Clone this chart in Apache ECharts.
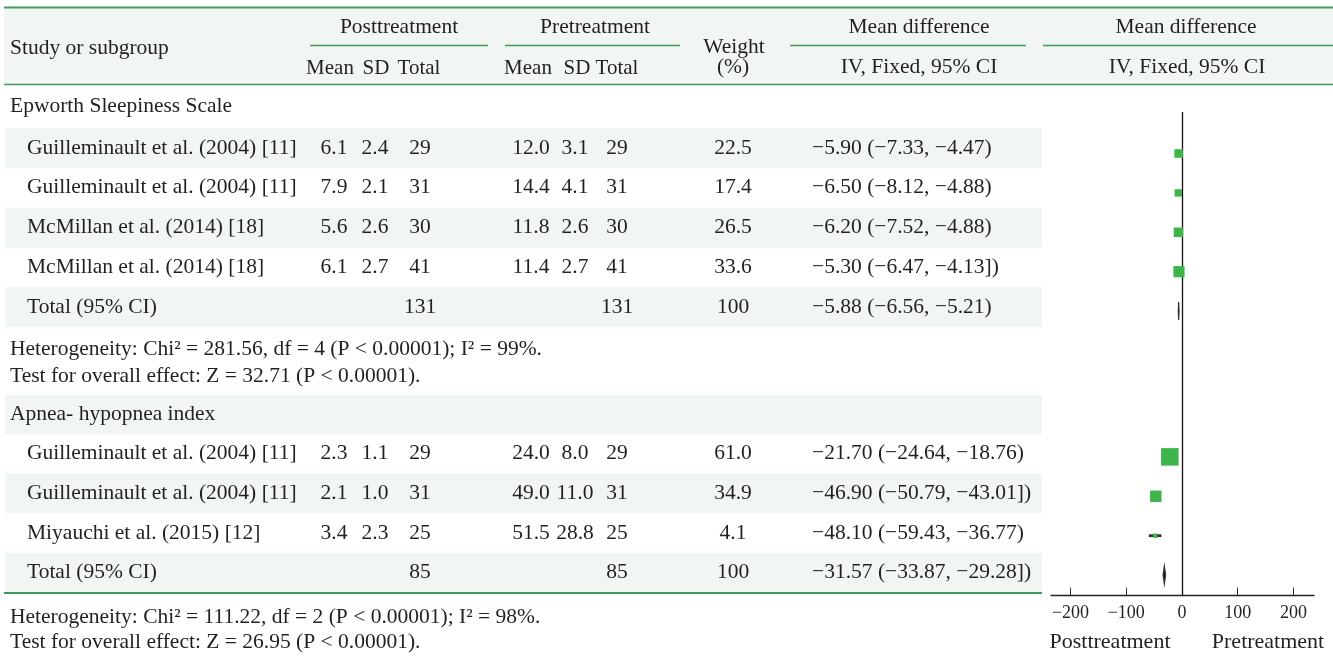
<!DOCTYPE html>
<html><head><meta charset="utf-8">
<script src="https://cdn.jsdelivr.net/npm/echarts@6/dist/echarts.min.js"></script>
<style>html,body{margin:0;padding:0;background:#fff}#c{width:1333px;height:657px}</style>
</head><body><div id="c"></div>
<script>
// ---------------- DATA ----------------
const groupNames = ["Epworth Sleepiness Scale", "Apnea- hypopnea index"];
const studies = ["Guilleminault et al. (2004) [11]", "Guilleminault et al. (2004) [11]", "McMillan et al. (2014) [18]", "McMillan et al. (2014) [18]",
                 "Guilleminault et al. (2004) [11]", "Guilleminault et al. (2004) [11]", "Miyauchi et al. (2015) [12]"];
const studyGroup = [0, 0, 0, 0, 1, 1, 1];
const postMean  = [6.1, 7.9, 5.6, 6.1, 2.3, 2.1, 3.4];
const postSD    = [2.4, 2.1, 2.6, 2.7, 1.1, 1.0, 2.3];
const postTotal = [29, 31, 30, 41, 29, 31, 25];
const preMean   = [12.0, 14.4, 11.8, 11.4, 24.0, 49.0, 51.5];
const preSD     = [3.1, 4.1, 2.6, 2.7, 8.0, 11.0, 28.8];
const preTotal  = [29, 31, 30, 41, 29, 31, 25];
const weights   = [22.5, 17.4, 26.5, 33.6, 61.0, 34.9, 4.1];
const meanDiff  = [-5.90, -6.50, -6.20, -5.30, -21.70, -46.90, -48.10];
const ciLow     = [-7.33, -8.12, -7.52, -6.47, -24.64, -50.79, -59.43];
const ciHigh    = [-4.47, -4.88, -4.88, -4.13, -18.76, -43.01, -36.77];
const ciClose   = [")", ")", ")", "])", ")", "])", ")"];
const totalLabel = "Total (95% CI)";
const totalPost  = [131, 85];
const totalPre   = [131, 85];
const totalWeight = [100, 100];
const totalMd    = [-5.88, -31.57];
const totalLow   = [-6.56, -33.87];
const totalHigh  = [-5.21, -29.28];
const totalClose = [")", "])"];
const hetChi = ["281.56", "111.22"];
const hetDf  = [4, 2];
const hetI2  = [99, 98];
const overallZ = ["32.71", "26.95"];
const pText = "P < 0.00001";
const xTicks = [-200, -100, 0, 100, 200];
const sideLabels = ["Posttreatment", "Pretreatment"];
const headGroups = ["Posttreatment", "Pretreatment"];
const subHeads = ["Mean", "SD", "Total"];
const headStudy = "Study or subgroup";
const headWeight = ["Weight", "(%)"];
const headMd = ["Mean difference", "IV, Fixed, 95% CI"];

// ---------------- LAYOUT ----------------
const FONT = '"Liberation Serif", "Times New Roman", serif';
const FS = 21.5;
const TXT = '#231f20';
const GREEN_LINE = '#3f9a5e';
const SHADE = '#f1f6f2';
const MARK = '#3db54a';
const colX = {pm: 334, psd: 375, pt: 420, qm: 531, qsd: 575, qt: 617, w: 733, md: 812};
const subHeadX = [[330, 376, 419], [528, 577, 617]];
const nameX = 27, groupX = 10;
const grp = [
  {headTop: 84, headH: 44, rowTop: 128, rowH: 39.8, het: 349, test: 376, offsetU: 0},
  {headTop: 395, headH: 39, rowTop: 434, rowH: 39.6, het: 617, test: 642, offsetU: 7.7}
];
const forestTop = 112, axisY = 595.5, uPix0 = 153.5, uStep = 39.4;

const minus = s => String(s).replace(/-/g, '\u2212');
const fmtCI = (m, lo, hi, close) => minus(m.toFixed(2)) + ' (' + minus(lo.toFixed(2)) + ', ' + minus(hi.toFixed(2)) + close;

const G = [];
function txt(x, y, s, align, size) {
  G.push({type: 'text', x: x, y: y, z: 10, silent: true,
    style: {text: s, fill: TXT, font: (size || FS) + 'px ' + FONT, fontSize: size || FS, fontFamily: FONT,
      align: align || 'center', textAlign: align || 'center', verticalAlign: 'middle', textVerticalAlign: 'middle'}});
}
function rect(x, y, w, h, fill) {
  G.push({type: 'rect', z: 1, silent: true, shape: {x: x, y: y, width: w, height: h}, style: {fill: fill}});
}
function hline(x1, x2, y, w) {
  G.push({type: 'line', z: 5, silent: true, shape: {x1: x1, y1: y, x2: x2, y2: y}, style: {stroke: GREEN_LINE, lineWidth: w}});
}

// header
rect(4, 8, 1329, 76, SHADE);
hline(4, 1333, 7.5, 2);
hline(4, 1333, 84.5, 1.6);
hline(310, 488, 45.5, 1.4);
hline(505, 680, 45.5, 1.4);
hline(790, 1026, 45.5, 1.4);
hline(1043, 1333, 45.5, 1.4);
txt(groupX, 48, headStudy, 'left');
txt(399, 27, headGroups[0]);
txt(595, 27, headGroups[1]);
subHeadX.forEach(xs => xs.forEach((x, i) => txt(x, 68, subHeads[i], 'center', 21)));
txt(734, 47, headWeight[0]);
txt(733, 67, headWeight[1]);
txt(919, 27, headMd[0]);
txt(919, 67, headMd[1]);
txt(1186, 27, headMd[0]);
txt(1187, 67, headMd[1]);

const studyPts = [], totalPts = [];
groupNames.forEach((gname, g) => {
  const L = grp[g];
  const idx = studyGroup.map((v, i) => v === g ? i : -1).filter(i => i >= 0);
  const n = idx.length + 1;
  if (n % 2 === 0) rect(5, L.headTop, 1037, L.headH, SHADE);
  txt(groupX, L.headTop + L.headH / 2, gname, 'left');
  idx.forEach((si, k) => {
    const top = L.rowTop + k * L.rowH, cy = top + L.rowH / 2;
    if ((n - 1 - k) % 2 === 0) rect(5, top, 1037, L.rowH, SHADE);
    txt(nameX, cy, studies[si], 'left');
    txt(colX.pm, cy, postMean[si].toFixed(1));
    txt(colX.psd, cy, postSD[si].toFixed(1));
    txt(colX.pt, cy, String(postTotal[si]));
    txt(colX.qm, cy, preMean[si].toFixed(1));
    txt(colX.qsd, cy, preSD[si].toFixed(1));
    txt(colX.qt, cy, String(preTotal[si]));
    txt(colX.w, cy, weights[si].toFixed(1));
    txt(colX.md, cy, fmtCI(meanDiff[si], ciLow[si], ciHigh[si], ciClose[si]), 'left');
    studyPts.push([meanDiff[si], L.offsetU + k, ciLow[si], ciHigh[si], weights[si]]);
  });
  const k = idx.length, top = L.rowTop + k * L.rowH, cy = top + L.rowH / 2;
  rect(5, top, 1037, L.rowH, SHADE);
  txt(nameX, cy, totalLabel, 'left');
  txt(colX.pt, cy, String(totalPost[g]));
  txt(colX.qt, cy, String(totalPre[g]));
  txt(colX.w, cy, String(totalWeight[g]));
  txt(colX.md, cy, fmtCI(totalMd[g], totalLow[g], totalHigh[g], totalClose[g]), 'left');
  totalPts.push([totalMd[g], L.offsetU + k, totalLow[g], totalHigh[g]]);
  txt(groupX, L.het, 'Heterogeneity: Chi\u00b2 = ' + hetChi[g] + ', df = ' + hetDf[g] + ' (' + pText + '); I\u00b2 = ' + hetI2[g] + '%.', 'left');
  txt(groupX, L.test, 'Test for overall effect: Z = ' + overallZ[g] + ' (' + pText + ').', 'left');
});
hline(4, 1042, 593, 2);
txt(1110, 642, sideLabels[0], 'center', 22);
txt(1268, 642, sideLabels[1], 'center', 22);

// ---------------- CHART ----------------
const chart = echarts.init(document.getElementById('c'), null, {renderer: 'canvas'});
const gl = 1051, gr = 1314;
chart.setOption({
  animation: false,
  backgroundColor: '#ffffff',
  graphic: {elements: G},
  grid: {left: gl, right: 1333 - gr, top: forestTop, bottom: 657 - axisY, containLabel: false},
  xAxis: {type: 'value', min: -235, max: 237,
    axisLine: {show: true, onZero: false, lineStyle: {color: '#222', width: 1.3}},
    axisTick: {show: true, inside: true, length: 8, customValues: xTicks, lineStyle: {color: '#333', width: 1}},
    axisLabel: {customValues: xTicks, formatter: v => minus(v), fontFamily: FONT, fontSize: 18, color: TXT, margin: 9},
    splitLine: {show: false}},
  yAxis: {type: 'value', inverse: true, show: false,
    min: (forestTop - uPix0) / uStep, max: (axisY - uPix0) / uStep, splitLine: {show: false}},
  series: [
    {type: 'custom', name: 'studies', data: studyPts, z: 5, silent: true,
      renderItem: function (params, api) {
        const y = api.value(1);
        const lo = api.coord([api.value(2), y]), hi = api.coord([api.value(3), y]);
        const c = api.coord([api.value(0), y]);
        const s = 3.4 + 0.231 * api.value(4);
        return {type: 'group', children: [
          {type: 'line', shape: {x1: lo[0], y1: lo[1], x2: hi[0], y2: hi[1]}, style: {stroke: '#333', lineWidth: 2.8}},
          {type: 'rect', shape: {x: c[0] - s / 2, y: c[1] - s / 2, width: s, height: s}, style: {fill: MARK}}
        ]};
      },
      markLine: {silent: true, symbol: ['none', 'none'], label: {show: false},
        lineStyle: {color: '#111', width: 1.3, type: 'solid'}, data: [{xAxis: 0}]}
    },
    {type: 'custom', name: 'totals', data: totalPts, z: 6, silent: true,
      renderItem: function (params, api) {
        const y = api.value(1);
        const lo = api.coord([api.value(2), y]), hi = api.coord([api.value(3), y]);
        const c = api.coord([api.value(0), y]);
        const h = 9;
        return {type: 'polygon', shape: {points: [[lo[0], c[1]], [c[0], c[1] - h], [hi[0], c[1]], [c[0], c[1] + h]]},
          style: {fill: '#222', stroke: '#333', lineWidth: 1.2}};
      }
    }
  ]
});
</script></body></html>
